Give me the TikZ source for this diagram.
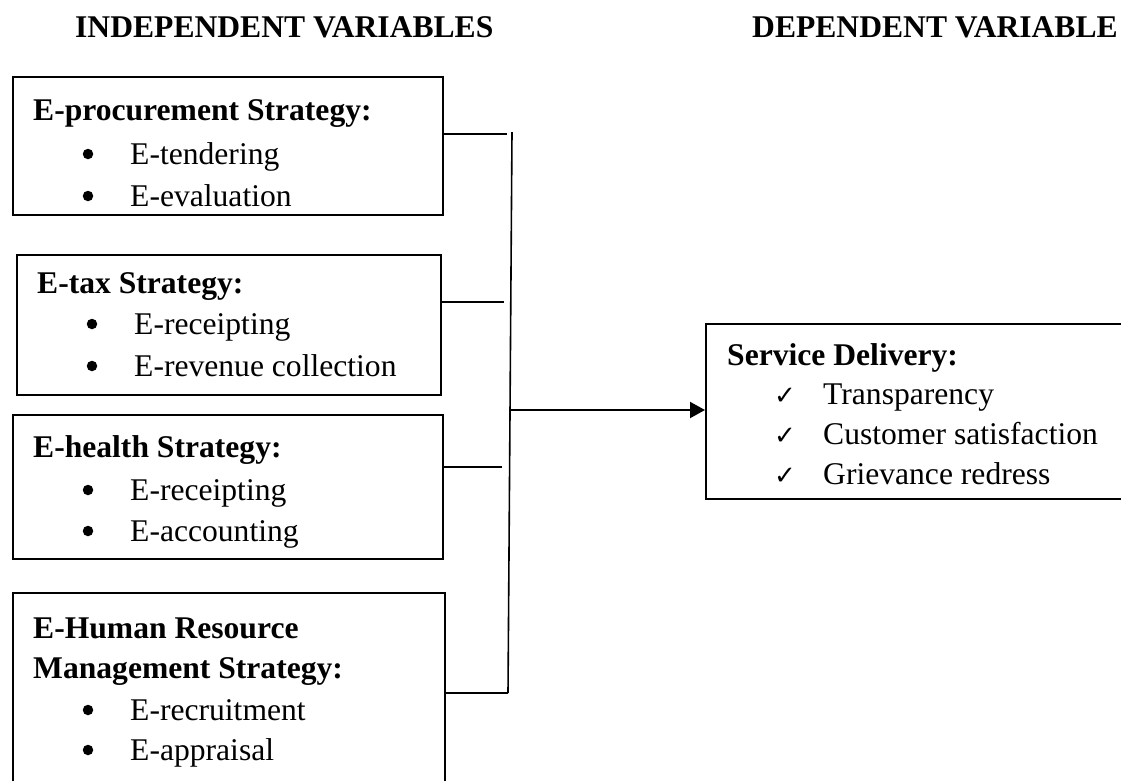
\documentclass[tikz,border=0pt]{standalone}
\usepackage{fontspec}
\setmainfont{Liberation Serif}
\newfontfamily\symfont{DejaVu Sans}
\usetikzlibrary{arrows.meta}

\begin{document}
\begin{tikzpicture}[x=1pt,y=-1pt,
  box/.style={draw, line width=2pt, anchor=north west, inner sep=0pt},
  link/.style={line width=1.6pt},
  txt/.style={anchor=base west, inner sep=0pt, font=\fontsize{31.6}{38}\selectfont},
  ttl/.style={txt, font=\fontsize{31.6}{38}\selectfont\bfseries},
  bul/.style={circle, fill, inner sep=0pt, minimum size=10.5pt},
  chk/.style={anchor=base, inner sep=0pt, font=\symfont\fontsize{26}{30}\selectfont},
]
\useasboundingbox (0,0) rectangle (1121,780);

% column headings
\node[ttl] (hind) at (75,37) {INDEPENDENT VARIABLES};
\node[ttl] (hdep) at (752,37) {DEPENDENT VARIABLE};

% independent variable boxes
\node[box, minimum width=430, minimum height=138] (b1) at (12,76) {};
\node[box, minimum width=424, minimum height=140] (b2) at (16,254) {};
\node[box, minimum width=430, minimum height=144] (b3) at (12,414) {};
\node[box, minimum width=432, minimum height=230] (b4) at (12,592) {};

% dependent variable box
\node[box, minimum width=450, minimum height=175] (sd) at (705,323) {};

% box 1
\node[ttl] (t1) at (33,120) {E-procurement Strategy:};
\node[bul] (t1a) at (88,154) {};
\node[txt] (t1b) at (130,164) {E-tendering};
\node[bul] (t1c) at (88,196) {};
\node[txt] (t1d) at (130,206) {E-evaluation};

% box 2
\node[ttl] (t2) at (37,293) {E-tax Strategy:};
\node[bul] (t2a) at (92,324) {};
\node[txt] (t2b) at (134,334) {E-receipting};
\node[bul] (t2c) at (92,366) {};
\node[txt] (t2d) at (134,376) {E-revenue collection};

% box 3
\node[ttl] (t3) at (33,457) {E-health Strategy:};
\node[bul] (t3a) at (88,490) {};
\node[txt] (t3b) at (130,500) {E-receipting};
\node[bul] (t3c) at (88,531) {};
\node[txt] (t3d) at (130,541) {E-accounting};

% box 4
\node[ttl] (t4) at (33,638) {E-Human Resource};
\node[ttl] (t4m) at (33,678) {Management Strategy:};
\node[bul] (t4a) at (88,710) {};
\node[txt] (t4b) at (130,720) {E-recruitment};
\node[bul] (t4c) at (88,750) {};
\node[txt] (t4d) at (130,760) {E-appraisal};

% service delivery
\node[ttl] (t5) at (727,365) {Service Delivery:};
\node[chk] (c1) at (785,404) {✓};
\node[txt] (t5a) at (823,404) {Transparency};
\node[chk] (c2) at (785,444) {✓};
\node[txt] (t5b) at (823,444) {Customer satisfaction};
\node[chk] (c3) at (785,484) {✓};
\node[txt] (t5c) at (823,484) {Grievance redress};

% collecting bar and links
\coordinate (bartop) at (512,132);
\coordinate (barbot) at (508,693);
\coordinate (j1) at (507,134);
\coordinate (j2) at (504,302);
\coordinate (j3) at (502,467);
\coordinate (a0) at (509,410);

\draw[link] (bartop) -- (barbot);
\draw[link] (b1.east |- j1) -- (j1);
\draw[link] (b2.east |- j2) -- (j2);
\draw[link] (b3.east |- j3) -- (j3);
\draw[link] (b4.east |- barbot) -- (barbot);
\draw[line width=2pt, -{Triangle[length=15pt,width=16pt]}] (a0) -- (sd.west |- a0);
\end{tikzpicture}
\end{document}
